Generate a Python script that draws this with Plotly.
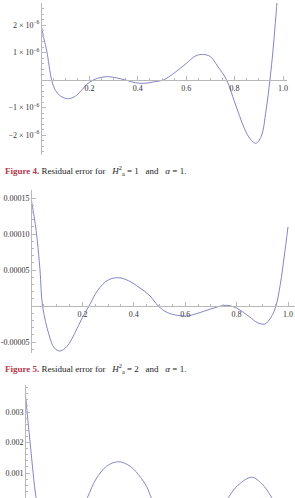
import plotly.graph_objects as go

W, H = 295, 498

# ---------------- data ----------------
# Figure 4 residual (H_a^2 = 1, alpha = 1)
x1 = [0.0, 0.012, 0.024, 0.044, 0.06, 0.08, 0.11, 0.14, 0.17, 0.19, 0.216, 0.25, 0.28,
      0.31, 0.35, 0.39, 0.43, 0.47, 0.505, 0.55, 0.6, 0.64, 0.67, 0.7, 0.73, 0.767,
      0.8, 0.84, 0.865, 0.888, 0.91, 0.93, 0.946, 0.96, 0.98]
y1 = [2.02e-6, 1.5e-6, 1.05e-6, 0.0, -0.38e-6, -0.58e-6, -0.68e-6, -0.6e-6, -0.35e-6,
      -0.15e-6, 0.0, 0.1e-6, 0.12e-6, 0.08e-6, 0.0, -0.1e-6, -0.12e-6, -0.06e-6, 0.0,
      0.25e-6, 0.6e-6, 0.88e-6, 0.93e-6, 0.85e-6, 0.5e-6, 0.0, -0.8e-6, -1.75e-6,
      -2.15e-6, -2.3e-6, -2.05e-6, -1.1e-6, 0.0, 1.2e-6, 3.4e-6]

# Figure 5 residual (H_a^2 = 2, alpha = 1)
x2 = [0.0, 0.02, 0.035, 0.045, 0.07, 0.09, 0.113, 0.14, 0.17, 0.2, 0.226, 0.26, 0.3,
      0.34, 0.38, 0.42, 0.463, 0.495, 0.53, 0.57, 0.606, 0.65, 0.7, 0.76, 0.8, 0.85,
      0.88, 0.91, 0.935, 0.953, 0.97, 0.985, 1.0]
y2 = [15.0e-5, 10.5e-5, 5.0e-5, 0.0, -4.0e-5, -5.8e-5, -6.25e-5, -5.6e-5, -3.8e-5,
      -1.6e-5, 0.0, 2.2e-5, 3.6e-5, 3.93e-5, 3.5e-5, 2.6e-5, 1.4e-5, 0.0, -0.9e-5,
      -1.3e-5, -1.39e-5, -1.0e-5, -0.4e-5, 0.1e-5, -0.3e-5, -1.5e-5, -2.3e-5, -2.5e-5,
      -1.5e-5, 0.0, 3.0e-5, 6.8e-5, 11.0e-5]

# third residual plot (partially visible)
x3 = [0.0, 0.02, 0.042, 0.06, 0.1, 0.14, 0.18, 0.237, 0.27, 0.31, 0.355, 0.4, 0.44,
      0.463, 0.48, 0.52, 0.6, 0.68, 0.74, 0.773, 0.81, 0.862, 0.9, 0.938, 0.97, 1.0]
y3 = [3.72e-3, 1.95e-3, 0.19e-3, -0.6e-3, -1.3e-3, -1.4e-3, -0.9e-3, 0.19e-3, 0.8e-3,
      1.22e-3, 1.37e-3, 1.22e-3, 0.85e-3, 0.55e-3, 0.19e-3, -0.5e-3, -1.1e-3, -0.8e-3,
      -0.3e-3, 0.19e-3, 0.6e-3, 0.86e-3, 0.65e-3, 0.19e-3, -0.5e-3, -1.5e-3]

# tick values / labels
xtick_vals = [0.2, 0.4, 0.6, 0.8, 1.0]
xtick_text = ["0.2", "0.4", "0.6", "0.8", "1.0"]
y1_tick_vals = [-2e-6, -1e-6, 1e-6, 2e-6]
y1_tick_text = ["\u22122 \u00d7 10<sup>\u22126</sup>", "\u22121 \u00d7 10<sup>\u22126</sup>",
                "1 \u00d7 10<sup>\u22126</sup>", "2 \u00d7 10<sup>\u22126</sup>"]
y2_tick_vals = [-5e-5, 5e-5, 10e-5, 15e-5]
y2_tick_text = ["-0.00005", "0.00005", "0.00010", "0.00015"]
y3_tick_vals = [0.001, 0.002, 0.003]
y3_tick_text = ["0.001", "0.002", "0.003"]

captions = [
    ("Figure 4.", "Residual error for &nbsp;&nbsp;<i>H</i><sup>2</sup><sub>a</sub> = 1 &nbsp;&nbsp;and &nbsp;&nbsp;<i>\u03b1</i> = 1."),
    ("Figure 5.", "Residual error for &nbsp;&nbsp;<i>H</i><sup>2</sup><sub>a</sub> = 2 &nbsp;&nbsp;and &nbsp;&nbsp;<i>\u03b1</i> = 1."),
]

# ---------------- styling helpers ----------------
LINE = "#8585c9"
AXC = "#b8b8b8"
TXT = "#333333"
FONT = "Liberation Serif, Times New Roman, DejaVu Serif, serif"


def px(v):
    return v / W


def py(v):
    return 1 - v / H


fig = go.Figure()
for i, (xs, ys) in enumerate([(x1, y1), (x2, y2), (x3, y3)]):
    suf = "" if i == 0 else str(i + 1)
    fig.add_trace(go.Scatter(x=xs, y=ys, mode="lines", xaxis="x" + suf, yaxis="y" + suf,
                             line=dict(color=LINE, width=1, shape="spline", smoothing=1.0),
                             hoverinfo="skip", showlegend=False))


def xax(dom, rng, pos, visible=True):
    return dict(domain=dom, range=rng, anchor="free", position=pos, visible=visible,
                showline=True, linecolor=AXC, linewidth=1, showgrid=False, zeroline=False,
                tickmode="array", tickvals=xtick_vals, ticktext=xtick_text,
                ticks="inside", ticklen=4, tickcolor=AXC, tickwidth=1,
                minor=dict(tickmode="linear", tick0=0, dtick=0.05, ticks="inside",
                           ticklen=2, tickcolor=AXC, showgrid=False),
                tickfont=dict(family=FONT, size=8, color=TXT), fixedrange=True)


def yax(dom, rng, pos, vals, text, mdt):
    return dict(domain=dom, range=rng, anchor="free", position=pos,
                showline=True, linecolor=AXC, linewidth=1, showgrid=False, zeroline=False,
                tickmode="array", tickvals=vals, ticktext=text,
                ticks="inside", ticklen=4, tickcolor=AXC, tickwidth=1,
                minor=dict(tickmode="linear", tick0=0, dtick=mdt, ticks="inside",
                           ticklen=2, tickcolor=AXC, showgrid=False),
                tickfont=dict(family=FONT, size=8, color=TXT), fixedrange=True)


# plot 1 : origin at (41, 80), 242 px per unit x, 27.5 px per 1e-6
fig.update_layout(
    xaxis=xax([px(41), px(287)], [0, (287 - 41) / 242], py(80)),
    yaxis=yax([py(155), py(3)], [-(155 - 80) / 27.5e6, (80 - 3) / 27.5e6], px(41),
              y1_tick_vals, y1_tick_text, 2e-7),
    # plot 2 : origin at (31, 306), 257 px per unit x, 7.2 px per 1e-5
    xaxis2=xax([px(31), 1.0], [0, (295 - 31) / 257], py(306)),
    yaxis2=yax([py(353), py(190)], [-(353 - 306) / 7.2e5, (306 - 190) / 7.2e5], px(31),
               y2_tick_vals, y2_tick_text, 1e-5),
    # plot 3 : origin at (25, 503.5), 263 px per unit x, 30.5 px per 1e-3
    xaxis3=xax([px(25), px(290)], [0, (290 - 25) / 263], 0, visible=False),
    yaxis3=yax([0, py(385)], [(503.5 - 498) / 30.5e3, (503.5 - 385) / 30.5e3], px(25),
               y3_tick_vals, y3_tick_text, 2e-4),
)

for (lab, rest), yy in zip(captions, [170, 368]):
    fig.add_annotation(xref="paper", yref="paper", x=px(3), y=py(yy), xanchor="left",
                       yanchor="middle", showarrow=False,
                       text="<span style='color:#b23a4c'><b>" + lab + "</b></span> " + rest,
                       font=dict(family=FONT, size=9, color="#222222"))

fig.update_layout(width=W, height=H, margin=dict(l=0, r=0, t=0, b=0),
                  paper_bgcolor="white", plot_bgcolor="white", showlegend=False)

fig.write_html("out.html", config={"displayModeBar": False})
